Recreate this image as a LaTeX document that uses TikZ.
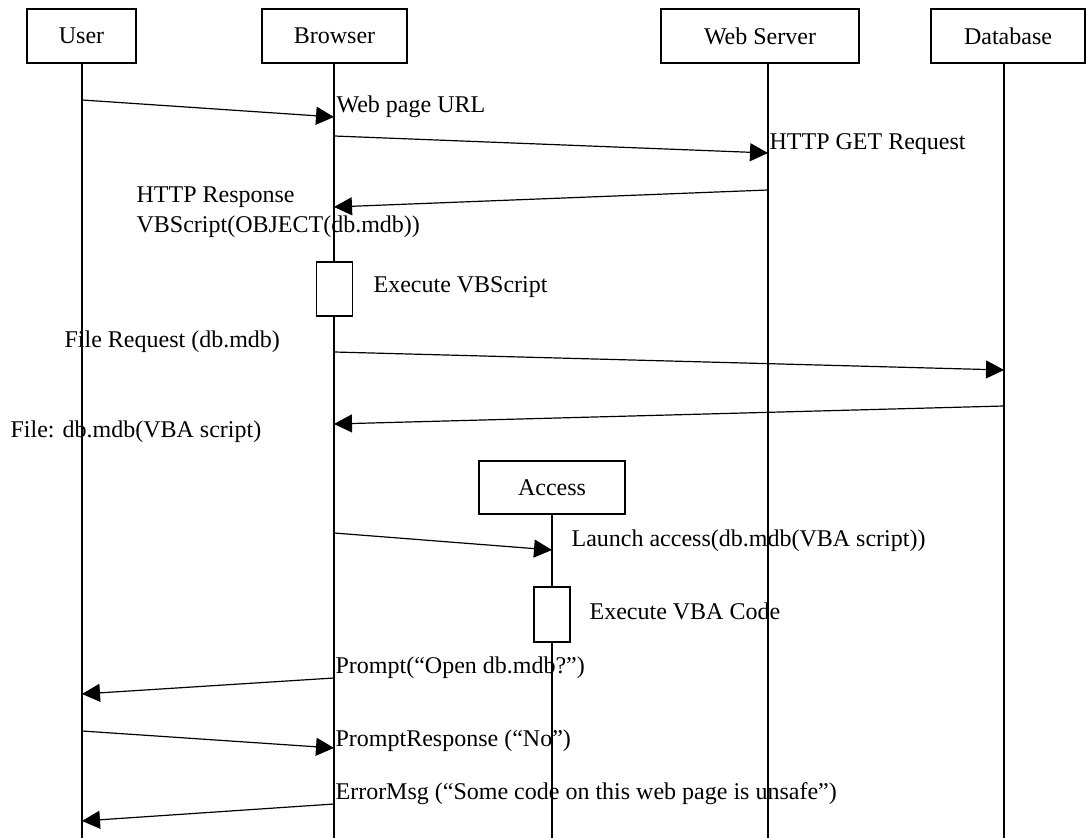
\documentclass[tikz,border=0pt]{standalone}
\usepackage{fontspec}
\setmainfont{Liberation Serif}
\usepackage{tikz}
\usetikzlibrary{arrows.meta}

\begin{document}
\begin{tikzpicture}[
x=0.5pt, y=-0.5pt,
font=\fontsize{12}{15}\selectfont,
actor/.style={
	rectangle, draw, line width=0.6pt,
	minimum height=27pt, inner sep=2pt, text=black
},
exec/.style={
	rectangle, draw, fill=white, line width=0.6pt,
	minimum width=18pt, minimum height=27pt, inner sep=0pt
},
lbl/.style={anchor=base west, inner sep=0pt},
msg/.style={-{Triangle[length=9pt,width=9pt]}, line width=0.6pt},
line width=0.6pt
]
\useasboundingbox (0,0) rectangle (1086,838);
% objects
\node[actor, minimum width=54.5pt] (user) at (81.5,36) {User};
\node[actor, minimum width=72.5pt] (browser) at (334.5,36) {Browser};
\node[actor, minimum width=99pt] (server) at (760,36) {Web Server};
\node[actor, minimum width=77pt] (db) at (1008,36) {Database};
\node[actor, minimum width=73pt, minimum height=26.5pt] (access) at (552,487.5) {Access};
% lifelines
\coordinate (U) at (82,0);
\coordinate (B) at (334,0);
\coordinate (S) at (768,0);
\coordinate (D) at (1004,0);
\coordinate (A) at (552,0);
\foreach \c/\n in {U/user,B/browser,S/server,D/db,A/access}
{
	\draw (\c |- \n.south) -- (\c |- 0,838);
}
\node[exec] (vbs) at (334.5,289) {};
\node[exec, minimum height=27.5pt] (vba) at (552,614.5) {};
% messages
\foreach \a/\ya/\b/\yb in {U/100/B/117, B/136/S/153, S/190/B/207,
	B/352/D/370, D/406/B/424, B/533/A/550,
	B/678/U/694, U/731/B/748, B/804/U/821}
{
	\draw[msg] (\a |- 0,\ya) -- (\b |- 0,\yb);
}
\node[lbl] (url) at (336,113) {Web page URL};
\node[lbl] (get) at (769,150) {HTTP GET Request};
\node[lbl] (resp) at (136,203) {HTTP Response};
\node[lbl] (resp2) at (136,233) {VBScript(OBJECT(db.mdb))};
\node[lbl] (runvbs) at (373,293) {Execute VBScript};
\node[lbl] (freq) at (64,348) {File Request (db.mdb)};
\node[lbl] (file) at (10,438) {File: db.mdb(VBA script)};
\node[lbl] (launch) at (571,547) {Launch access(db.mdb(VBA script))};
\node[lbl] (runvba) at (589,620) {Execute VBA Code};
\node[lbl] (prompt) at (335,674) {Prompt(“Open db.mdb?”)};
\node[lbl] (answer) at (335,746) {PromptResponse (“No”)};
\node[lbl] (error) at (335,799) {ErrorMsg (“Some code on this web page is unsafe”)};
\end{tikzpicture}
\end{document}
